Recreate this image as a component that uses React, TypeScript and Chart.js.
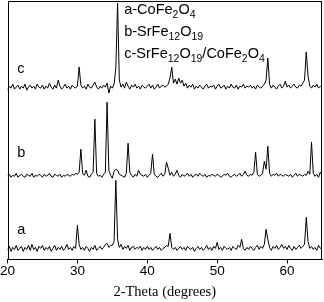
import React, { useEffect, useRef } from "react";
import { Chart, registerables } from "chart.js";

Chart.register(...registerables);

// XRD scan grid (degrees 2-theta)
const SCAN_START = 20;
const SCAN_STEP = 0.25;

// raw intensities (arbitrary units), one value per scan step
const intensityA = [
  9, 13, 8, 12, 10, 14, 9, 11, 13, 8, 12, 10, 14, 9, 15, 10, 12, 8, 13, 11,
  14, 9, 12, 10, 13, 8, 11, 14, 9, 12, 10, 13, 9, 11, 15, 10, 12, 9, 13, 11,
  34, 15, 10, 12, 9, 13, 11, 8, 12, 10, 14, 9, 11, 13, 10, 12, 15, 16, 12, 14,
  14, 18, 79, 20, 12, 15, 10, 13, 11, 14, 9, 12, 13, 10, 12, 11, 13, 9, 12, 10,
  13, 10, 12, 9, 11, 13, 10, 12, 9, 11, 12, 14, 13, 26, 12, 10, 12, 9, 11, 13,
  10, 12, 9, 13, 11, 10, 12, 8, 11, 13, 10, 12, 9, 11, 14, 10, 12, 9, 13, 11,
  17, 10, 12, 9, 13, 11, 10, 12, 9, 13, 11, 10, 14, 12, 20, 11, 9, 12, 10, 13,
  11, 9, 12, 14, 10, 13, 11, 15, 30, 20, 12, 9, 13, 11, 14, 10, 12, 15, 11, 13,
  10, 14, 11, 9, 13, 10, 12, 14, 11, 13, 15, 42, 18, 11, 13, 10, 12, 9, 14, 11,
  12,
];

const intensityB = [
  10, 12, 9, 11, 10, 13, 9, 11, 12, 10, 9, 12, 11, 10, 13, 9, 11, 10, 12, 11,
  9, 12, 10, 11, 13, 10, 9, 12, 11, 10, 12, 9, 11, 10, 12, 11, 10, 12, 11, 13,
  12, 14, 37, 13, 11, 16, 10, 9, 12, 14, 67, 13, 10, 11, 9, 12, 14, 84, 16, 11,
  8, 15, 17, 16, 12, 11, 10, 9, 13, 43, 14, 11, 9, 12, 10, 16, 12, 11, 10, 12,
  9, 11, 13, 32, 12, 10, 9, 11, 13, 10, 12, 24, 18, 11, 14, 10, 12, 16, 11, 9,
  12, 10, 11, 13, 10, 12, 9, 11, 12, 10, 13, 11, 10, 12, 9, 11, 10, 12, 11, 10,
  12, 11, 9, 10, 12, 11, 13, 10, 9, 11, 12, 10, 11, 13, 10, 12, 15, 11, 10, 12,
  11, 14, 34, 12, 10, 11, 13, 25, 17, 40, 13, 10, 12, 11, 13, 10, 12, 11, 10, 12,
  11, 10, 12, 9, 11, 13, 10, 12, 11, 10, 12, 11, 15, 12, 44, 13, 10, 12, 9, 14,
  11,
];

const intensityC = [
  8, 12, 10, 14, 9, 11, 13, 9, 12, 10, 14, 8, 11, 13, 10, 12, 9, 14, 11, 10,
  13, 9, 12, 10, 15, 11, 9, 13, 10, 18, 12, 9, 11, 14, 10, 12, 9, 13, 11, 10,
  12, 31, 13, 10, 12, 9, 14, 11, 10, 13, 16, 11, 9, 12, 10, 13, 11, 15, 5, 12,
  10, 14, 30, 95, 18, 11, 14, 10, 16, 12, 9, 13, 11, 14, 10, 12, 9, 13, 11, 10,
  12, 14, 10, 13, 9, 11, 14, 10, 12, 13, 11, 12, 14, 20, 31, 15, 19, 14, 20, 15,
  18, 12, 15, 10, 13, 11, 14, 9, 12, 10, 13, 11, 9, 12, 14, 10, 12, 11, 13, 9,
  12, 14, 10, 11, 13, 9, 12, 10, 14, 11, 10, 13, 9, 12, 11, 14, 10, 12, 11, 13,
  10, 12, 9, 13, 11, 10, 12, 14, 18, 40, 14, 10, 13, 11, 9, 12, 14, 10, 12, 17,
  11, 13, 10, 12, 14, 11, 10, 13, 12, 15, 18, 46, 22, 12, 10, 13, 11, 14, 10, 12,
  11,
];

// vertical stacking offsets of the patterns a, b, c
const seriesOffsets = [0, 73, 161];
const seriesNames = ["a", "b", "c"];
// legend lines ("_n" = subscript)
const legendLines = ["a-CoFe_2O_4", "b-SrFe_12O_19", "c-SrFe_12O_19/CoFe_2O_4"];

const xTickValues = [20, 30, 40, 50, 60];

const toPoints = (arr: number[], off: number) =>
  arr.map((v, i) => ({ x: SCAN_START + i * SCAN_STEP, y: v + off }));

const SANS = "'Liberation Sans', Arial, sans-serif";
const SERIF = "'Liberation Serif', 'Times New Roman', serif";

function drawRich(ctx: CanvasRenderingContext2D, text: string, x: number, y: number, size: number, subSize: number) {
  const parts = text.split(/(_\d+)/).filter((p) => p.length);
  let cx = x;
  for (const p of parts) {
    if (p.startsWith("_")) {
      ctx.font = `${subSize}px ${SANS}`;
      const t = p.slice(1);
      ctx.fillText(t, cx, y + 4);
      cx += ctx.measureText(t).width;
    } else {
      ctx.font = `${size}px ${SANS}`;
      ctx.fillText(p, cx, y);
      cx += ctx.measureText(p).width;
    }
  }
}

const annotPlugin = {
  id: "annot",
  afterDatasetsDraw(chart: any) {
    const { ctx, chartArea, scales } = chart;
    const { left, top, right, bottom } = chartArea;
    ctx.save();
    ctx.strokeStyle = "#000";
    ctx.lineWidth = 1;
    ctx.strokeRect(Math.round(left) + 0.5, Math.round(top) + 0.5, Math.round(right - left) - 1, Math.round(bottom - top));
    ctx.fillStyle = "#000";
    ctx.textBaseline = "alphabetic";
    ctx.textAlign = "left";
    const xs = scales.x;
    const ys = scales.y;
    // series letters
    const letterY = [25, 102, 186];
    seriesNames.forEach((n, i) => {
      ctx.font = `14.5px ${SANS}`;
      ctx.fillText(n, xs.getPixelForValue(21.4), ys.getPixelForValue(letterY[i]));
    });
    // legend
    const legY = [245.5, 223, 201];
    legendLines.forEach((t, i) => {
      drawRich(ctx, t, xs.getPixelForValue(36.7), ys.getPixelForValue(legY[i]), 14.5, 10.5);
    });
    ctx.restore();
  },
};

export default function App() {
  const ref = useRef<HTMLCanvasElement>(null);
  useEffect(() => {
    if (!ref.current) return;
    const series = [intensityA, intensityB, intensityC];
    const chart = new Chart(ref.current, {
      type: "line",
      data: {
        datasets: series.map((s, i) => ({
          label: seriesNames[i],
          data: toPoints(s, seriesOffsets[i]),
          borderColor: "#000",
          borderWidth: 1,
          pointRadius: 0,
          tension: 0,
          fill: false,
        })),
      },
      options: {
        animation: false,
        responsive: false,
        devicePixelRatio: 1,
        layout: { padding: { left: 7, right: 2, top: 1, bottom: 0 } },
        plugins: { legend: { display: false }, tooltip: { enabled: false } },
        scales: {
          x: {
            type: "linear",
            min: 20,
            max: 65,
            afterBuildTicks: (axis: any) => {
              axis.ticks = xTickValues.map((v) => ({ value: v }));
            },
            grid: { display: true, drawOnChartArea: false, drawTicks: true, tickLength: 4, color: "#000", lineWidth: 1 },
            border: { display: true, color: "#000", width: 1 },
            ticks: { color: "#000", font: { family: SANS, size: 13.5 }, padding: 0, maxRotation: 0 },
            title: {
              display: true,
              text: "2-Theta (degrees)",
              color: "#000",
              font: { family: SERIF, size: 14.5 },
              padding: { top: 4, bottom: 1 },
            },
          },
          y: { display: false, min: 0, max: 258 },
        },
      },
      plugins: [annotPlugin],
    });
    return () => chart.destroy();
  }, []);
  return (
    <div style={{ position: "fixed", left: 0, top: 0, width: 324, height: 302, background: "#fff" }}>
      <canvas ref={ref} width={324} height={302} />
    </div>
  );
}
